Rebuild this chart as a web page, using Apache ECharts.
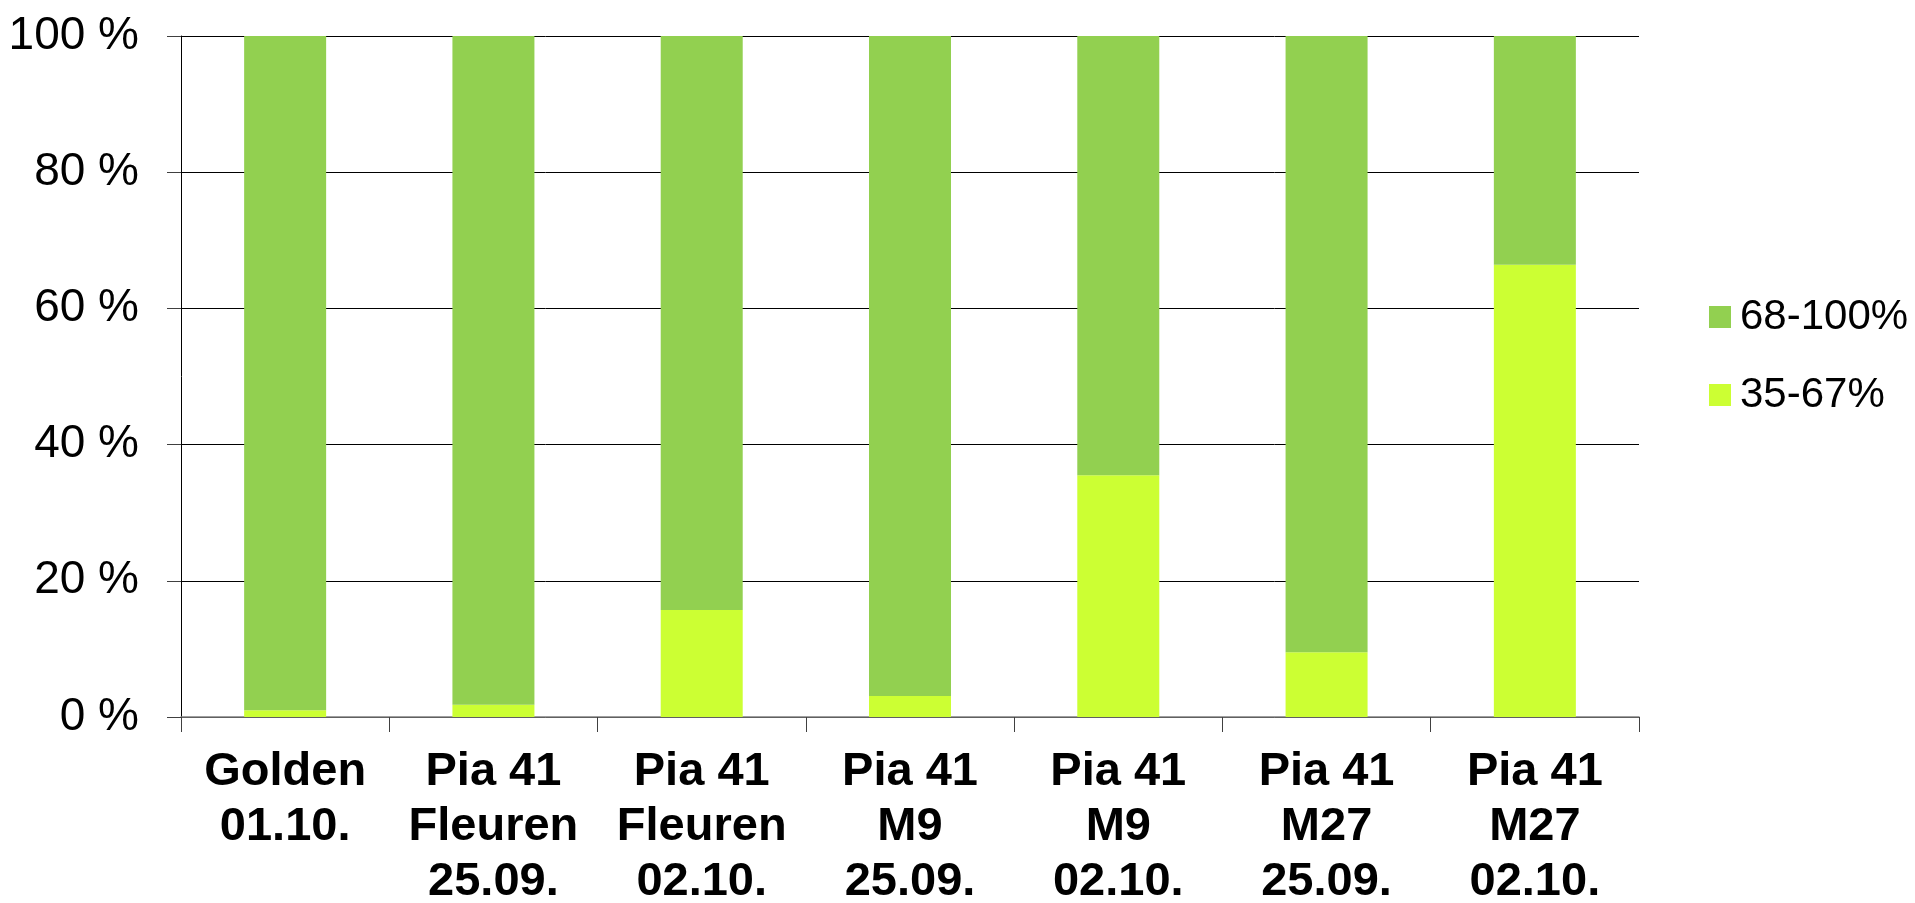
<!DOCTYPE html>
<html>
<head>
<meta charset="utf-8">
<script src="https://cdn.jsdelivr.net/npm/echarts@6/dist/echarts.min.js"></script>
<style>
html,body{margin:0;padding:0;background:#fff;}
#chart{width:1915px;height:903px;}
</style>
</head>
<body>
<div id="chart"></div>
<script>
const categories = [
  "Golden\n01.10.",
  "Pia 41\nFleuren\n25.09.",
  "Pia 41\nFleuren\n02.10.",
  "Pia 41\nM9\n25.09.",
  "Pia 41\nM9\n02.10.",
  "Pia 41\nM27\n25.09.",
  "Pia 41\nM27\n02.10."
];
const seriesNames = ["35-67%", "68-100%"];
const share35to67 = [1.0, 1.8, 15.7, 3.1, 35.5, 9.5, 66.4];
const share68to100 = [99.0, 98.2, 84.3, 96.9, 64.5, 90.5, 33.6];
const yTicks = [0, 20, 40, 60, 80, 100];

const chart = echarts.init(document.getElementById('chart'), null, {renderer: 'canvas'});
chart.setOption({
  animation: false,
  backgroundColor: '#ffffff',
  textStyle: {fontFamily: 'Liberation Sans, Arial, sans-serif'},
  grid: {left: 181, right: 276, top: 36, bottom: 186, containLabel: false, outerBoundsMode: 'none'},
  legend: {
    orient: 'vertical',
    left: 1704,
    top: 291,
    itemWidth: 22,
    itemHeight: 22,
    itemGap: 36,
    icon: 'rect',
    data: [seriesNames[1], seriesNames[0]],
    textStyle: {fontSize: 42, color: '#000', lineHeight: 42, padding: [0, 0, 0, 4], fontFamily: 'Liberation Sans, Arial, sans-serif'}
  },
  xAxis: {
    type: 'category',
    data: categories,
    axisLine: {show: true, lineStyle: {color: '#808080', width: 1.5}},
    axisTick: {show: true, length: 15, lineStyle: {color: '#404040'}},
    axisLabel: {
      interval: 0,
      margin: 28,
      fontSize: 47,
      fontWeight: 'bold',
      color: '#000',
      lineHeight: 55,
      fontFamily: 'Liberation Sans, Arial, sans-serif',
      verticalAlign: 'top'
    }
  },
  yAxis: {
    type: 'value',
    min: yTicks[0],
    max: yTicks[yTicks.length - 1],
    interval: 20,
    axisLine: {show: true, lineStyle: {color: '#000', width: 1}},
    axisTick: {show: true, length: 14, lineStyle: {color: '#404040'}},
    splitLine: {show: true, lineStyle: {color: '#000', width: 1}},
    axisLabel: {
      formatter: v => v + ' %',
      fontSize: 46,
      color: '#000',
      margin: 42,
      fontFamily: 'Liberation Sans, Arial, sans-serif'
    }
  },
  series: [
    {
      name: seriesNames[0],
      type: 'bar',
      stack: 'total',
      barWidth: 82,
      data: share35to67,
      itemStyle: {color: '#ccff33'}
    },
    {
      name: seriesNames[1],
      type: 'bar',
      stack: 'total',
      barWidth: 82,
      data: share68to100,
      itemStyle: {color: '#92d050'}
    }
  ]
});
</script>
</body>
</html>
